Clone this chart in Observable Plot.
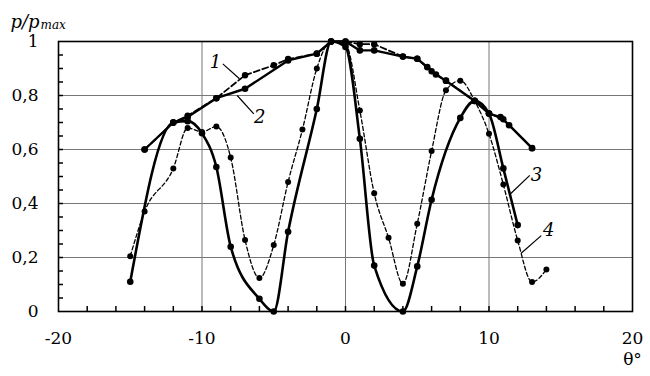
<!DOCTYPE html>
<html><head><meta charset="utf-8">
<script src="https://cdn.jsdelivr.net/npm/d3@7"></script>
<script src="https://cdn.jsdelivr.net/npm/@observablehq/plot@0.6"></script>
<style>
body{margin:0;background:#fff}
</style>
</head><body><div id="chart"></div>
<script>
// Curve 1 (dashed, markers)
const c1x = [-14, -12, -11, -9, -7, -5, -4, -2, -1, 0, 1, 2, 4, 5, 6, 7, 9, 10, 11, 13];
const c1y = [0.60, 0.70, 0.725, 0.79, 0.875, 0.912, 0.935, 0.955, 1.0, 1.0, 0.99, 0.99, 0.944, 0.936, 0.89, 0.855, 0.78, 0.733, 0.712, 0.605];
// Curve 2 (solid, markers)
const c2x = [-14, -12, -11, -9, -7, -4, -2, -1, 0, 1, 2, 4, 5, 5.7, 6.3, 7, 9, 10, 10.8, 11.4, 13];
const c2y = [0.60, 0.70, 0.72, 0.79, 0.825, 0.93, 0.955, 1.0, 1.0, 0.967, 0.967, 0.944, 0.936, 0.905, 0.878, 0.855, 0.78, 0.733, 0.72, 0.69, 0.605];
// Curve 3 (thick solid)
const c3x = [-15, -12, -11, -10, -9, -8, -6, -5, -4, -2, -1, 0, 1, 2, 4, 5, 6, 8, 9, 10, 11, 12];
const c3y = [0.11, 0.70, 0.705, 0.66, 0.535, 0.24, 0.047, 0.0, 0.295, 0.75, 1.0, 0.98, 0.64, 0.17, 0.0, 0.167, 0.414, 0.717, 0.78, 0.733, 0.53, 0.32];
// Curve 4 (thin dashed)
const c4x = [-15, -14, -12, -11, -10, -9, -8, -7, -6, -5, -4, -3, -2, -1, 0, 1, 2, 3, 4, 5, 6, 7, 8, 9, 10, 11, 12, 13, 14];
const c4y = [0.205, 0.37, 0.53, 0.68, 0.665, 0.685, 0.57, 0.265, 0.124, 0.246, 0.48, 0.674, 0.90, 1.0, 0.99, 0.744, 0.438, 0.273, 0.103, 0.325, 0.594, 0.819, 0.855, 0.78, 0.658, 0.47, 0.263, 0.109, 0.156];

const xTicks = [-20, -10, 0, 10, 20];
const yTicks = [0, 0.2, 0.4, 0.6, 0.8, 1];
const xGrid = [-10, 0, 10];
const yGrid = [0.2, 0.4, 0.6, 0.8];
const xMinor = d3.range(-18, 20, 2);
const yMinor = d3.range(1, 20).map(i => i * 0.05);

// Curve labels and leader lines
const labelText = ["1", "2", "3", "4"];
const labelX = [-9.06, -5.97, 13.3, 14.17];
const labelY = [0.925, 0.72, 0.504, 0.30];
const leadX1 = [-8.55, -7.55, 12.84, 13.64];
const leadY1 = [0.917, 0.80, 0.504, 0.281];
const leadX2 = [-7.39, -6.39, 11.5, 12.24];
const leadY2 = [0.862, 0.732, 0.436, 0.216];

const toPts = (xs, ys) => xs.map((x, i) => ({x, y: ys[i]}));
const s1 = toPts(c1x, c1y), s2 = toPts(c2x, c2y), s3 = toPts(c3x, c3y), s4 = toPts(c4x, c4y);
const labels = labelText.map((t, i) => ({t, x: labelX[i], y: labelY[i], x1: leadX1[i], y1: leadY1[i], x2: leadX2[i], y2: leadY2[i]}));

const W = 650, H = 376, mL = 58, mR = 18, mT = 41, mB = 65;
const fw = W - mL - mR, fh = H - mT - mB;
const FF = "DejaVu Serif";

const chart = Plot.plot({
  width: W, height: H,
  marginLeft: mL, marginRight: mR, marginTop: mT, marginBottom: mB,
  style: {fontFamily: FF, fontSize: "17px", background: "#fff", color: "#000"},
  x: {domain: [-20, 20]},
  y: {domain: [0, 1]},
  marks: [
    Plot.gridX(xGrid, {stroke: "#777", strokeOpacity: 1, strokeWidth: 1}),
    Plot.gridY(yGrid, {stroke: "#777", strokeOpacity: 1, strokeWidth: 1}),
    Plot.tickX(xMinor, {x: d => d, insetTop: fh - 5, stroke: "#000", strokeWidth: 1.5}),
    Plot.tickY(yMinor, {y: d => d, insetRight: fw - 5, stroke: "#000", strokeWidth: 1.5}),
    Plot.frame({stroke: "#000", strokeWidth: 1.6}),
    Plot.axisX(xTicks, {tickSize: 0, tickPadding: 20, label: null, tickFormat: d => String(d), fontSize: 17, fontFamily: FF}),
    Plot.axisY(yTicks, {tickSize: 0, tickPadding: 20, label: null, tickFormat: d => String(d).replace(".", ","), fontSize: 17, fontFamily: FF}),
    // curves
    Plot.line(s4, {x: "x", y: "y", stroke: "#000", strokeWidth: 1.3, strokeDasharray: "4,2.5", curve: "monotone-x"}),
    Plot.dot(s4, {x: "x", y: "y", r: 3, fill: "#000"}),
    Plot.line(s3, {x: "x", y: "y", stroke: "#000", strokeWidth: 2.6, curve: "monotone-x"}),
    Plot.dot(s3, {x: "x", y: "y", r: 3.3, fill: "#000"}),
    Plot.line(s1, {x: "x", y: "y", stroke: "#000", strokeWidth: 1.8, strokeDasharray: "6,3"}),
    Plot.dot(s1, {x: "x", y: "y", r: 3.2, fill: "#000"}),
    Plot.line(s2, {x: "x", y: "y", stroke: "#000", strokeWidth: 2.4}),
    Plot.dot(s2, {x: "x", y: "y", r: 3.3, fill: "#000"}),
    // labels
    Plot.link(labels, {x1: "x1", y1: "y1", x2: "x2", y2: "y2", stroke: "#000", strokeWidth: 1.2}),
    Plot.text(labels, {x: "x", y: "y", text: "t", fontStyle: "italic", fontSize: 18, fontFamily: FF}),
    Plot.text(["p/p"], {frameAnchor: "top-left", dx: -48, dy: -26, textAnchor: "start", fontStyle: "italic", fontSize: 18, fontFamily: FF}),
    Plot.text(["max"], {frameAnchor: "top-left", dx: -18, dy: -21, textAnchor: "start", fontStyle: "italic", fontSize: 12, fontFamily: FF}),
    Plot.text(["θ°"], {frameAnchor: "bottom-right", dy: 53, textAnchor: "middle", fontSize: 17, fontFamily: FF})
  ]
});
document.getElementById("chart").appendChild(chart);
</script>
</body></html>
